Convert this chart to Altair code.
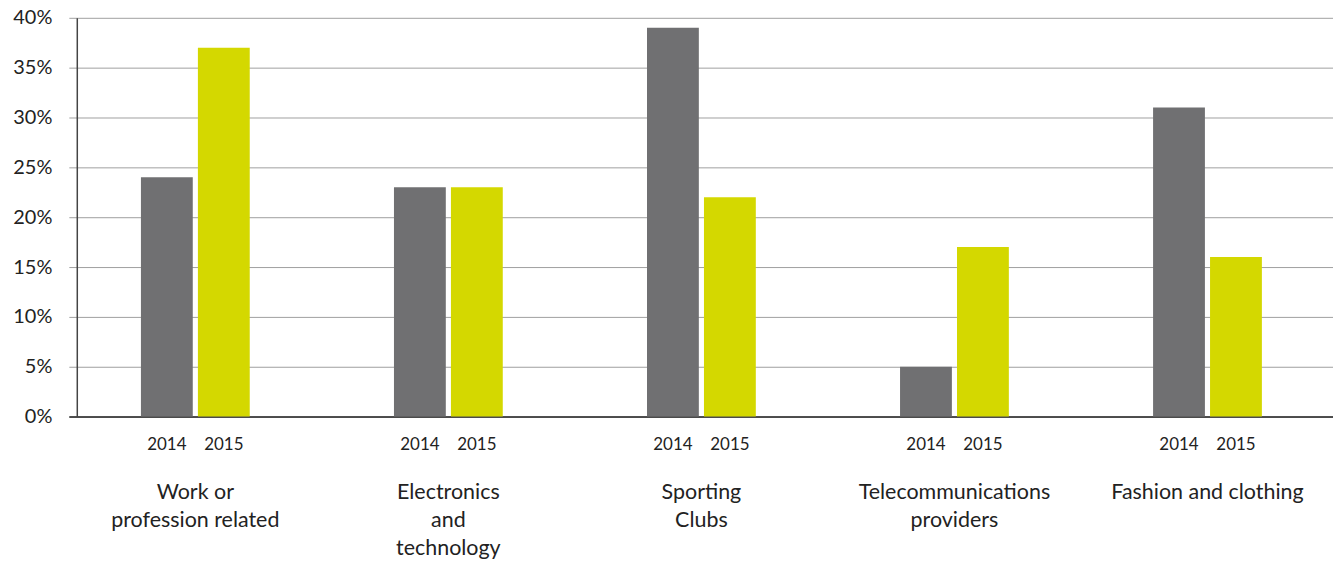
import altair as alt
import pandas as pd

categories = ["Work or|profession related", "Electronics|and|technology", "Sporting|Clubs",
              "Telecommunications|providers", "Fashion and clothing"]
years = ["2014", "2015"]
values_2014 = [24, 23, 39, 5, 31]
values_2015 = [37, 23, 22, 17, 16]

rows = []
for c, a, b in zip(categories, values_2014, values_2015):
    rows.append({"category": c, "year": "2014", "value": a})
    rows.append({"category": c, "year": "2015", "value": b})
df = pd.DataFrame(rows)

FONT = "Lato"
x_scale = alt.Scale(range=[-8, 1261], paddingInner=0.57, paddingOuter=0.285)
x_enc = alt.X("category:N", sort=categories, title=None, scale=x_scale,
              axis=alt.Axis(labelExpr="split(datum.label, '|')", labelAngle=0,
                            labelFontSize=21.5, labelFont=FONT, labelColor="#222",
                            labelPadding=65, labelLineHeight=28, labelBaseline="top",
                            labelLimit=0, ticks=False, domainColor="#222",
                            domainWidth=1.5, grid=False))
xo_enc = alt.XOffset("year:N", sort=years, scale=alt.Scale(paddingInner=0.09))

bars = alt.Chart(df).mark_bar().encode(
    x=x_enc,
    xOffset=xo_enc,
    y=alt.Y("value:Q", title=None,
            scale=alt.Scale(domain=[0, 40], nice=False),
            axis=alt.Axis(values=list(range(0, 41, 5)), labelExpr="datum.value + '%'",
                          labelFontSize=20, labelFont=FONT, labelColor="#222",
                          labelPadding=25, ticks=False, domainColor="#444",
                          domainWidth=1.5, gridColor="#a0a0a0", gridWidth=1)),
    color=alt.Color("year:N", sort=years, legend=None,
                    scale=alt.Scale(domain=years, range=["#707072", "#d4d800"])),
)

year_labels = alt.Chart(df).mark_text(fontSize=17, font=FONT, color="#222",
                                      baseline="middle").encode(
    x=alt.X("category:N", sort=categories, scale=x_scale),
    xOffset=xo_enc,
    y=alt.value(428),
    text="year:N",
)

chart = alt.layer(bars, year_labels).properties(
    width=1260, height=400,
    autosize=alt.AutoSizeParams(type="none"),
    padding={"left": 69, "top": 9, "right": 0, "bottom": 146},
).configure_view(stroke=None)

chart.save("out.html", embed_options={"renderer": "svg", "actions": False})
